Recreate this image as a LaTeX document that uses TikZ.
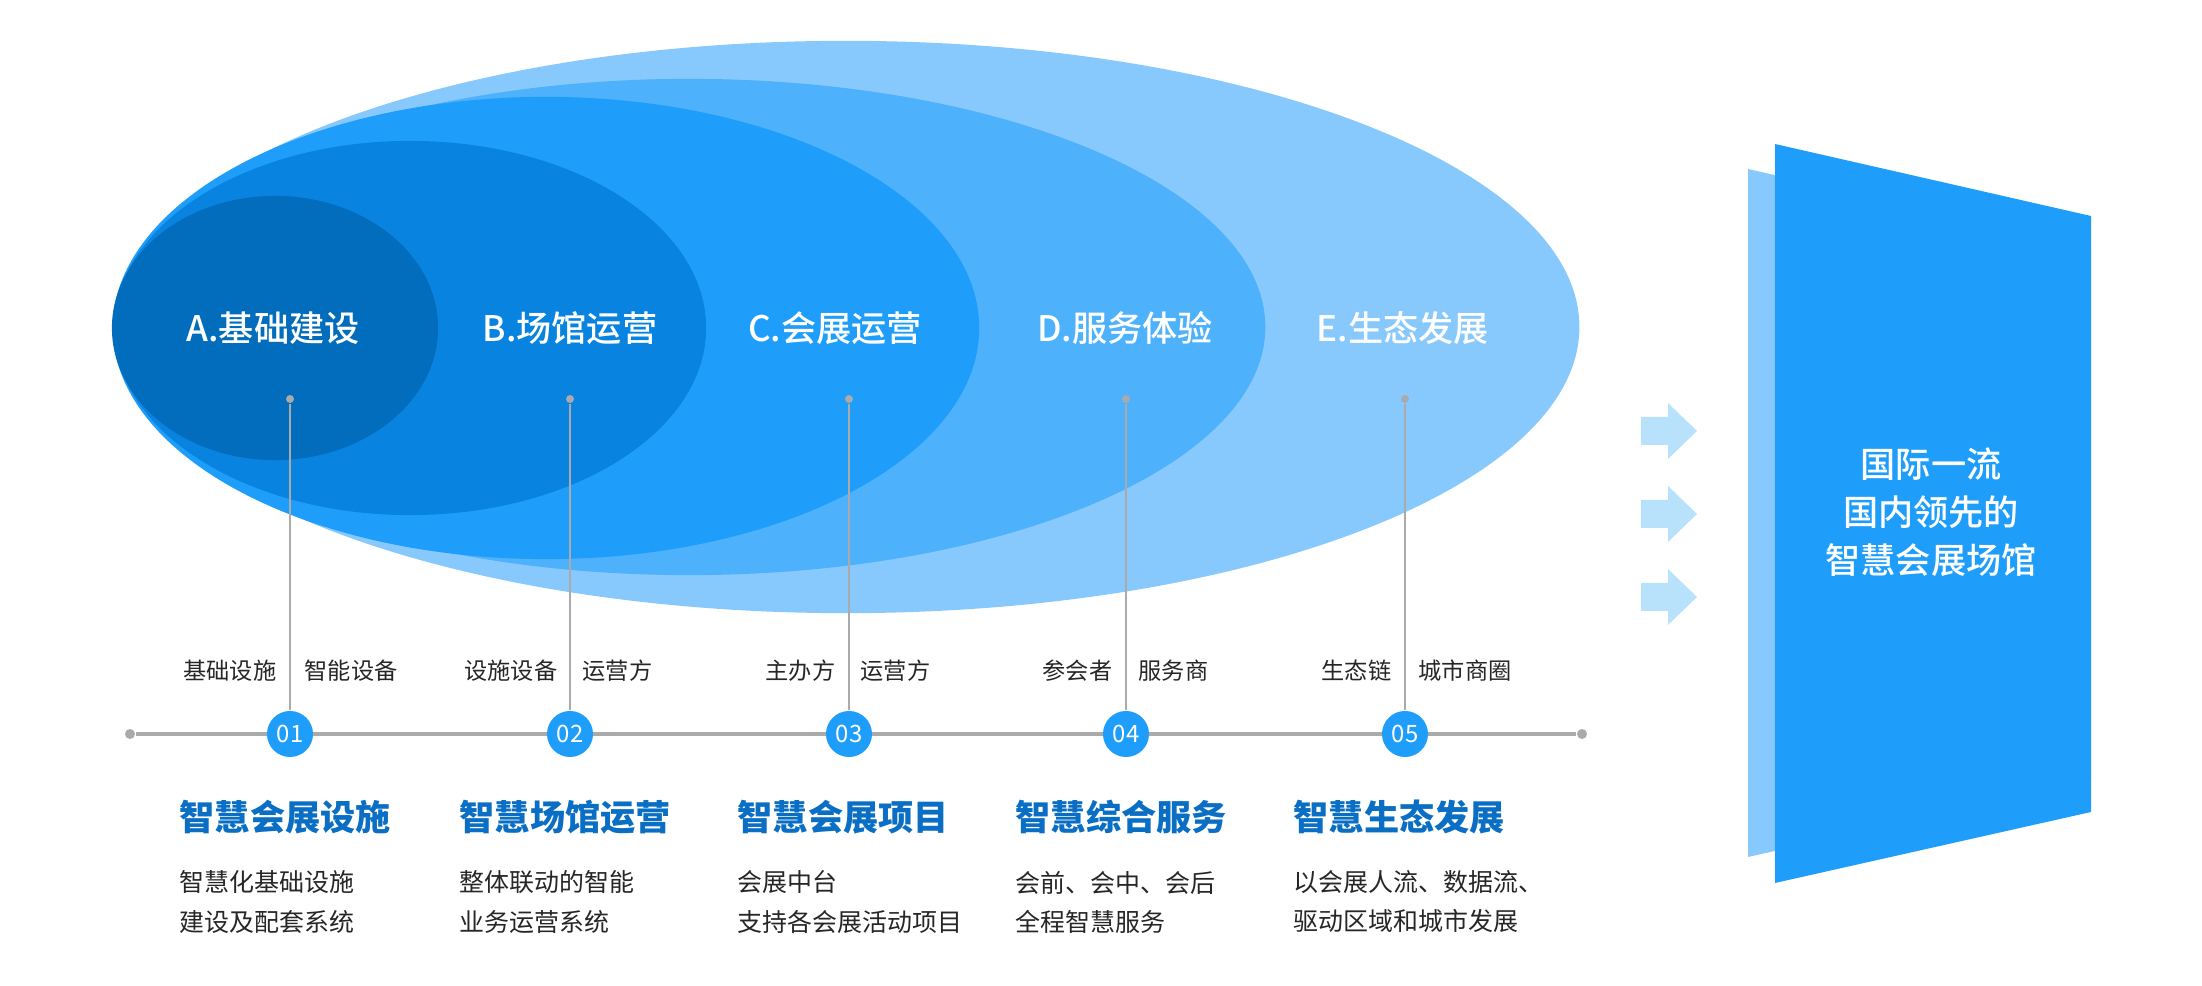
\documentclass[tikz,border=0pt]{standalone}
\usepackage{fontspec}
\setmainfont{Noto Sans CJK SC}
\newfontfamily\cjkmed{Noto Sans CJK SC}[UprightFont=* Medium]
\usetikzlibrary{shapes.geometric, positioning}

\definecolor{blueA}{HTML}{026CBD}
\definecolor{blueB}{HTML}{0884E0}
\definecolor{blueC}{HTML}{1E9EFA}
\definecolor{blueD}{HTML}{4DB1FC}
\definecolor{blueE}{HTML}{88C9FD}
\definecolor{paleblue}{HTML}{B8E2FB}
\definecolor{titleblue}{HTML}{0A6FC4}
\definecolor{axisgray}{HTML}{AAAAAA}

\tikzset{
	layer/.style = {ellipse, inner sep=0pt, draw=none},
	caption/.style = {text=white, inner sep=0pt, font=\cjkmed\fontsize{10}{12}\selectfont},
	dot/.style = {circle, fill=axisgray, inner sep=0pt, minimum size=0.08cm},
	enddot/.style = {circle, fill=axisgray, inner sep=0pt, minimum size=0.1cm},
	badge/.style = {circle, fill=blueC, text=white, inner sep=0pt, minimum size=0.46cm, font=\fontsize{6.8}{8}\selectfont},
	stem/.style = {draw=axisgray, line width=0.6pt},
	axis/.style = {draw=axisgray, line width=0.9pt},
	tag/.style = {text=black!85, inner sep=0pt, font=\fontsize{6.6}{8}\selectfont},
	heading/.style = {text=titleblue, inner sep=0pt, anchor=west, font=\bfseries\fontsize{10}{12}\selectfont},
	note/.style = {text=black!85, inner sep=0pt, anchor=west, align=left, font=\fontsize{7.1}{11.1}\selectfont}
}

\begin{document}
\begin{tikzpicture}[x=0.01cm, y=-0.01cm]
	\useasboundingbox (0,0) rectangle (2202,986);

	% nested ellipses, outermost first
	\node[layer, fill=blueE, minimum width=14.66cm, minimum height=5.72cm] (ellE) at (846,327) {};
	\node[layer, fill=blueD, minimum width=11.52cm, minimum height=4.96cm] (ellD) at (689,327) {};
	\node[layer, fill=blueC, minimum width=8.66cm, minimum height=4.62cm] (ellC) at (546,328) {};
	\node[layer, fill=blueB, minimum width=5.92cm, minimum height=3.74cm] (ellB) at (410,328) {};
	\node[layer, fill=blueA, minimum width=3.26cm, minimum height=2.64cm] (ellA) at (275,328) {};

	\node[caption] (capA) at (273,328) {A.基础建设};
	\node[caption] (capB) at (570,328) {B.场馆运营};
	\node[caption] (capC) at (835,328) {C.会展运营};
	\node[caption] (capD) at (1125,328) {D.服务体验};
	\node[caption] (capE) at (1403,328) {E.生态发展};

	% timeline
	\node[enddot] (axisL) at (130,734) {};
	\node[enddot] (axisR) at (1582,734) {};
	\draw[axis] (axisL) -- (axisR);

	\node[badge] (numA) at (290,734) {01};
	\node[badge] (numB) at (570,734) {02};
	\node[badge] (numC) at (849,734) {03};
	\node[badge] (numD) at (1126,734) {04};
	\node[badge] (numE) at (1405,734) {05};

	\node[dot] (topA) at (290,399) {};
	\node[dot] (topB) at (570,399) {};
	\node[dot] (topC) at (849,399) {};
	\node[dot] (topD) at (1126,399) {};
	\node[dot] (topE) at (1405,399) {};

	% stems
	\draw[stem] (topA) -- (numA);
	\draw[stem] (topB) -- (numB);
	\draw[stem] (topC) -- (numC);
	\draw[stem] (topD) -- (numD);
	\draw[stem] (topE) -- (numE);

	% tags beside the stems
	\node[tag, anchor=east] (tagA1) at (277,671) {基础设施};
	\node[tag, anchor=west] (tagA2) at (304,671) {智能设备};
	\node[tag, anchor=east] (tagB1) at (558,671) {设施设备};
	\node[tag, anchor=west] (tagB2) at (582,671) {运营方};
	\node[tag, anchor=east] (tagC1) at (836,671) {主办方};
	\node[tag, anchor=west] (tagC2) at (860,671) {运营方};
	\node[tag, anchor=east] (tagD1) at (1113,671) {参会者};
	\node[tag, anchor=west] (tagD2) at (1138,671) {服务商};
	\node[tag, anchor=east] (tagE1) at (1392,671) {生态链};
	\node[tag, anchor=west] (tagE2) at (1418,671) {城市商圈};

	% headings and notes
	\node[heading] (ttlA) at (179,817) {智慧会展设施};
	\node[heading] (ttlB) at (459,817) {智慧场馆运营};
	\node[heading] (ttlC) at (737,817) {智慧会展项目};
	\node[heading] (ttlD) at (1015,817) {智慧综合服务};
	\node[heading] (ttlE) at (1293,817) {智慧生态发展};

	\node[note] (txtA) at (179,902) {智慧化基础设施\\建设及配套系统};
	\node[note] (txtB) at (459,902) {整体联动的智能\\业务运营系统};
	\node[note] (txtC) at (737,902) {会展中台\\支持各会展活动项目};
	\node[note] (txtD) at (1015,902) {会前、会中、会后\\全程智慧服务};
	\node[note] (txtE) at (1293,902) {以会展人流、数据流、\\驱动区域和城市发展};

	% arrows
	\fill[paleblue] (1641,417) -- (1668,417) -- (1668,403) -- (1697,431) -- (1668,459) -- (1668,445) -- (1641,445) -- cycle;
	\fill[paleblue, shift={(0,83)}] (1641,417) -- (1668,417) -- (1668,403) -- (1697,431) -- (1668,459) -- (1668,445) -- (1641,445) -- cycle;
	\fill[paleblue, shift={(0,166)}] (1641,417) -- (1668,417) -- (1668,403) -- (1697,431) -- (1668,459) -- (1668,445) -- (1641,445) -- cycle;

	% goal panel
	\fill[blueE] (1748,169) -- (2091,247) -- (2091,780) -- (1748,857) -- cycle;
	\fill[blueC] (1775,144) -- (2091,216) -- (2091,812) -- (1775,883) -- cycle;
	\node[caption, align=center, font=\cjkmed\fontsize{10}{13.66}\selectfont] (goal) at (1931,512) {国际一流\\国内领先的\\智慧会展场馆};
\end{tikzpicture}
\end{document}
